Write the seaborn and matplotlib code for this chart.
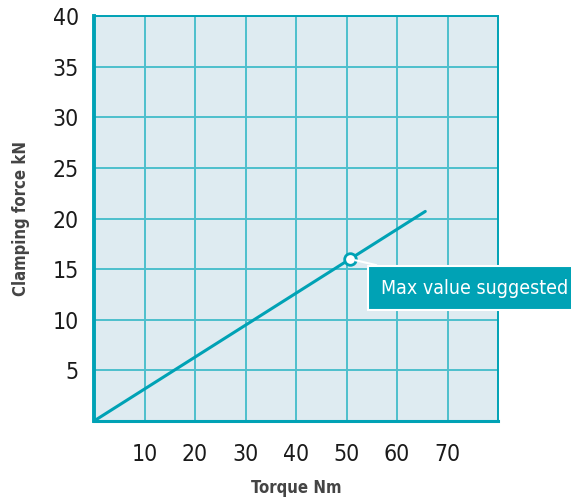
import matplotlib
matplotlib.use("Agg")
import matplotlib.pyplot as plt
import seaborn as sns
import pandas as pd

# Data
torque = [0, 65.6]
clamping = [0, 20.7]
max_torque = 50.7
max_force = 16.0
x_ticks = [10, 20, 30, 40, 50, 60, 70]
y_ticks = [5, 10, 15, 20, 25, 30, 35, 40]

teal = "#00a2b5"
grid_teal = "#4dbfcd"
bg = "#deebf1"

sns.set_theme(style="white")
plt.rcParams['font.family'] = ['DejaVu Sans']
plt.rcParams['font.stretch'] = 'condensed'

df = pd.DataFrame({"Torque": torque, "Force": clamping})

fig = plt.figure(figsize=(5.71, 5.03), dpi=100)
fig.subplots_adjust(left=94 / 571, right=498 / 571, bottom=1 - 421 / 503, top=1 - 16 / 503)
ax = fig.add_subplot(111)
ax.set_facecolor(bg)

# line and the suggested max point
sns.lineplot(data=df, x="Torque", y="Force", color=teal, linewidth=2.2, ax=ax, zorder=3)
sns.scatterplot(x=[max_torque], y=[max_force], s=70, color="white", edgecolor=teal,
                linewidth=2, ax=ax, zorder=5)

ax.set_xlim(0, 80)
ax.set_ylim(0, 40)
ax.set_xticks(x_ticks)
ax.set_yticks(y_ticks)
ax.grid(True, color=grid_teal, linewidth=1.4)
ax.set_axisbelow(True)

for side in ["top", "right"]:
    ax.spines[side].set_color(teal)
    ax.spines[side].set_linewidth(1.4)
ax.spines["bottom"].set_color(teal)
ax.spines["bottom"].set_linewidth(2.2)
ax.spines["left"].set_color(teal)
ax.spines["left"].set_linewidth(2.8)

ax.tick_params(axis="both", which="major", length=8, width=1.4, color=grid_teal,
               labelsize=16.5, labelcolor="#1a1a1a", direction="out")
ax.tick_params(axis="x", pad=8)
ax.tick_params(axis="y", pad=3)

ax.set_xlabel("Torque Nm", fontsize=12, fontweight="bold", color="#444444", labelpad=9)
ax.set_ylabel("Clamping force kN", fontsize=12, fontweight="bold", color="#444444", labelpad=16)

# Callout box
ax.annotate("Max value suggested", xy=(max_torque, max_force), xycoords="data",
            xytext=(381, 503 - 288), textcoords="figure pixels",
            fontsize=14, color="white", va="center", ha="left",
            bbox=dict(boxstyle="square,pad=0.65", fc=teal, ec="white", lw=1.5),
            arrowprops=dict(arrowstyle="-", color="white", lw=1.5, shrinkA=0, shrinkB=4),
            annotation_clip=False, zorder=6)

fig.savefig("out.png", dpi=100)
